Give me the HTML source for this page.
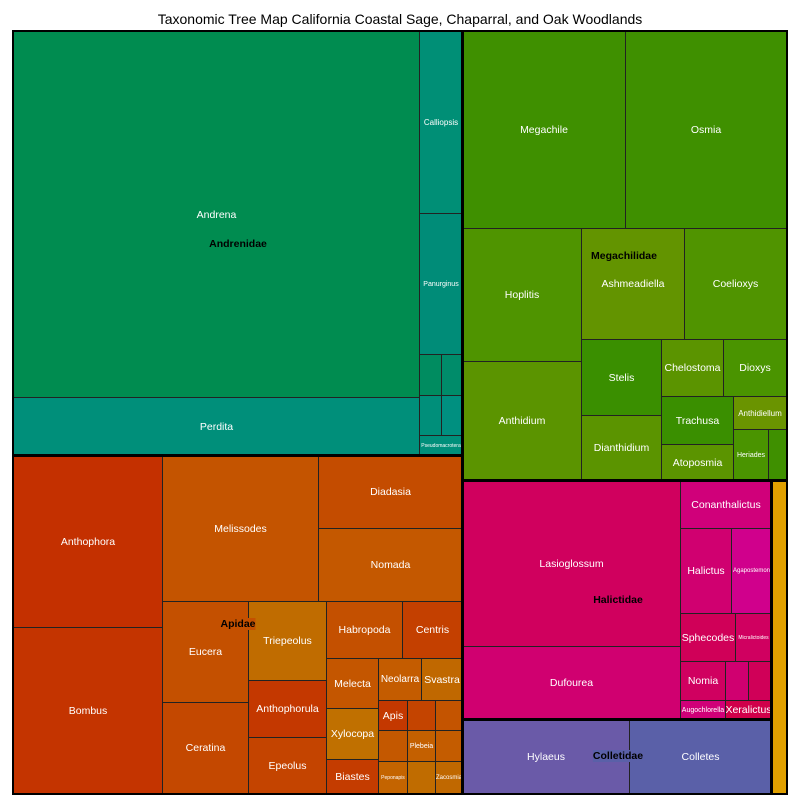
<!DOCTYPE html><html><head><style>
body{margin:0;width:800px;height:800px;background:#fff;font-family:"Liberation Sans",sans-serif;position:relative;overflow:hidden}
.r{position:absolute;box-sizing:border-box;border:1px solid #222;color:#fff;display:flex;align-items:center;justify-content:center;font-size:10.5px;white-space:nowrap;overflow:hidden}
.f{position:absolute;box-sizing:border-box;border:2px solid #000;pointer-events:none}
.l{position:absolute;font-weight:bold;font-size:10.5px;color:#000;transform:translate(-50%,-50%)}
.t{position:absolute;top:11px;left:0;width:800px;text-align:center;font-size:14px;color:#000}
</style></head><body>
<div class="t">Taxonomic Tree Map California Coastal Sage, Chaparral, and Oak Woodlands</div>
<div id="c"></div>
<script>
const R=[
[13,31,419,397,'#008c50','Andrena'],[13,397,419,455,'#008f7a','Perdita'],[419,31,462,213,'#008f76','Calliopsis',8],[419,213,462,354,'#008c78','Panurginus',7],
[419,354,441,395,'#008c60'],[441,354,462,395,'#008c6a'],[419,395,441,435,'#008f7a'],[441,395,462,435,'#009080'],[419,435,462,455,'#008f7a','Pseudomacrotera',5],
[462,31,625,228,'#3f9000','Megachile'],[625,31,786,228,'#3f9000','Osmia'],[462,228,581,361,'#4f9400','Hoplitis'],[462,361,581,480,'#5b9400','Anthidium'],
[581,228,684,339,'#639400','Ashmeadiella'],[684,228,786,339,'#509400','Coelioxys'],[581,339,661,415,'#3a8f00','Stelis'],[581,415,661,480,'#5b9400','Dianthidium'],
[661,339,723,396,'#5b9400','Chelostoma'],[723,339,786,396,'#4a9400','Dioxys'],[661,396,733,444,'#3a8f00','Trachusa'],[661,444,733,480,'#5b9400','Atoposmia'],
[733,396,786,429,'#6a9400','Anthidiellum',8],[733,429,768,480,'#4a9400','Heriades',7],[768,429,786,480,'#3f9000'],
[462,480,680,646,'#d0005e','Lasioglossum'],[462,646,680,719,'#d00070','Dufourea'],[680,480,771,528,'#d0007a','Conanthalictus'],[680,528,731,613,'#d00070','Halictus'],
[731,528,771,613,'#d0008c','Agapostemon',6],[680,613,735,661,'#d00058','Sphecodes'],[735,613,771,661,'#d00060','Micralictoides',5],[680,661,725,700,'#d00060','Nomia'],
[725,661,748,700,'#d00070'],[748,661,771,700,'#d00058'],[680,700,725,719,'#d00078','Augochlorella',7],[725,700,771,719,'#d0004a','Xeralictus'],
[462,719,629,793,'#6a5aa8','Hylaeus'],[629,719,771,793,'#5a60a8','Colletes'],[771,480,786,793,'#e0a000'],
[13,455,162,627,'#c43000','Anthophora'],[13,627,162,793,'#c43400','Bombus'],[162,455,318,601,'#c45400','Melissodes'],[318,455,462,528,'#c44c00','Diadasia'],[318,528,462,601,'#c45800','Nomada'],
[162,601,248,702,'#c45000','Eucera'],[162,702,248,793,'#c44800','Ceratina'],[248,601,326,680,'#c06c00','Triepeolus'],[248,680,326,737,'#c43800','Anthophorula'],[248,737,326,793,'#c44400','Epeolus'],
[326,601,402,658,'#c45000','Habropoda'],[402,601,462,658,'#c44000','Centris'],[326,658,378,708,'#c45600','Melecta'],[326,708,378,759,'#c07000','Xylocopa'],[326,759,378,793,'#c43c00','Biastes'],
[378,658,421,700,'#c45c00','Neolarra',10],[421,658,462,700,'#c06800','Svastra'],
[378,700,407,730,'#c43800','Apis'],[407,700,435,730,'#c44400'],[435,700,462,730,'#c45400'],
[378,730,407,761,'#c45800'],[407,730,435,761,'#c46000','Plebeia',7],[435,730,462,761,'#c45c00'],
[378,761,407,793,'#c46400','Peponapis',5],[407,761,435,793,'#c06c00'],[435,761,462,793,'#c06800','Zacosmia',6]
];
let h='';
for(const r of R){h+=`<div class="r" style="left:${r[0]}px;top:${r[1]}px;width:${r[2]-r[0]+1}px;height:${r[3]-r[1]+1}px;background:${r[4]};${r[6]?'font-size:'+r[6]+'px':''}">${r[5]||''}</div>`;}
const F=[[13,31,463,456],[462,31,787,481],[13,455,463,794],[462,480,772,720],[462,719,772,794],[771,480,787,794]];
for(const f of F)h+=`<div class="f" style="left:${f[0]-1}px;top:${f[1]-1}px;width:${f[2]-f[0]+2}px;height:${f[3]-f[1]+2}px"></div>`;
const L=[[238,244,'Andrenidae','#008c50'],[624,256,'Megachilidae','#639400'],[238,624,'Apidae','#c45000'],[618,600,'Halictidae','#d0005e'],[618,756,'Colletidae','#5a60a8']];
for(const l of L)h+=`<div class="l" style="left:${l[0]}px;top:${l[1]}px;background:${l[3]}">${l[2]}</div>`;
document.getElementById('c').innerHTML=h;
</script>
</body></html>
